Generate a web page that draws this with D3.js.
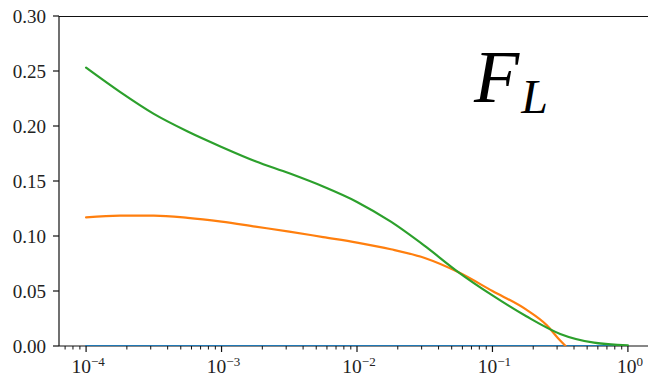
<!DOCTYPE html>
<html><head><meta charset="utf-8">
<script src="https://cdn.jsdelivr.net/npm/d3@7"></script>
<style>body{margin:0;background:#fff}svg{display:block}</style>
</head><body><svg id="c" width="648" height="379" font-family="'Liberation Serif', 'Times New Roman', Tinos, 'DejaVu Serif', serif"></svg>
<script>
// log10(x) sample positions
const logX = [-4.0,-3.75,-3.5,-3.25,-3.0,-2.75,-2.5,-2.25,-2.0,-1.75,-1.5,-1.25,-1.0,-0.75,-0.5,-0.25,0.0];
const greenVals = [0.253,0.231,0.211,0.195,0.181,0.168,0.157,0.145,0.131,0.113,0.091,0.067,0.046,0.027,0.011,0.003,0.0005];
const orangeLogX = [-4.0,-3.75,-3.5,-3.25,-3.0,-2.75,-2.5,-2.25,-2.0,-1.75,-1.5,-1.25,-1.0,-0.75,-0.6,-0.5,-0.46];
const orangeVals = [0.117,0.1185,0.1185,0.1165,0.113,0.1085,0.104,0.099,0.094,0.088,0.080,0.067,0.050,0.033,0.019,0.005,0.0];
const blueLogX = [-4.0,0.0];
const blueVals = [0.0,0.0];
const yTicks = [0,0.05,0.10,0.15,0.20,0.25,0.30];
const xMajorExp = [-4,-3,-2,-1,0];

const svg = d3.select("#c");
const L = 59, T = 16, B = 346, R = 655;
const x = d3.scaleLog().domain([Math.pow(10,-4.2), Math.pow(10,0.2)]).range([L, R]);
const y = d3.scaleLinear().domain([0,0.30]).range([B, T]);

svg.append("defs").append("clipPath").attr("id","clip")
  .append("rect").attr("x",L).attr("y",T).attr("width",R-L).attr("height",B-T);

// axes spines
const ax = svg.append("g").attr("stroke","#111").attr("stroke-width",1.2).attr("fill","none");
ax.append("line").attr("x1",L).attr("x2",L).attr("y1",T).attr("y2",B);
ax.append("line").attr("x1",L).attr("x2",R).attr("y1",T+0.5).attr("y2",T+0.5);
ax.append("line").attr("x1",L).attr("x2",R).attr("y1",B).attr("y2",B);

// y ticks
yTicks.forEach(v => {
  const yy = y(v);
  svg.append("line").attr("x1",L-6).attr("x2",L).attr("y1",yy).attr("y2",yy).attr("stroke","#111").attr("stroke-width",1.2);
  svg.append("text").attr("x",L-13).attr("y",yy+6.5).attr("text-anchor","end").attr("font-size",19).attr("fill","#222").text(v.toFixed(2));
});

// x minor ticks
const [d0,d1] = x.domain();
for (let e=-5; e<=0; e++) for (let m=2; m<=9; m++) {
  const v = m*Math.pow(10,e);
  if (v < d0 || v > d1) continue;
  svg.append("line").attr("x1",x(v)).attr("x2",x(v)).attr("y1",B).attr("y2",B+3.5).attr("stroke","#111").attr("stroke-width",1);
}
// x major ticks
xMajorExp.forEach(e => {
  const xx = x(Math.pow(10,e));
  svg.append("line").attr("x1",xx).attr("x2",xx).attr("y1",B).attr("y2",B+6).attr("stroke","#111").attr("stroke-width",1.2);
  const t = svg.append("text").attr("x",xx+2).attr("y",373).attr("text-anchor","middle").attr("font-size",19.5).attr("fill","#222");
  t.append("tspan").text("10");
  t.append("tspan").attr("dy",-7).attr("font-size",13).text(e<0 ? "\u2212"+(-e) : String(e));
});

// lines
const line = d3.line().x(d=>x(Math.pow(10,d[0]))).y(d=>y(d[1])).curve(d3.curveMonotoneX);
const g = svg.append("g").attr("clip-path","url(#clip)").attr("fill","none").attr("stroke-width",2.2).attr("stroke-linecap","round");
g.append("path").attr("d", line(blueLogX.map((v,i)=>[v,blueVals[i]]))).attr("stroke","#1f77b4");
g.append("path").attr("d", line(orangeLogX.map((v,i)=>[v,orangeVals[i]]))).attr("stroke","#ff7f0e");
g.append("path").attr("d", line(logX.map((v,i)=>[v,greenVals[i]]))).attr("stroke","#2ca02c");

// F_L label
const lab = svg.append("text").attr("x",474).attr("y",102).attr("font-style","italic").attr("fill","#000");
lab.append("tspan").attr("font-size",74).text("F");
lab.append("tspan").attr("font-size",48).attr("dx",2).attr("dy",11).text("L");
</script></body></html>
